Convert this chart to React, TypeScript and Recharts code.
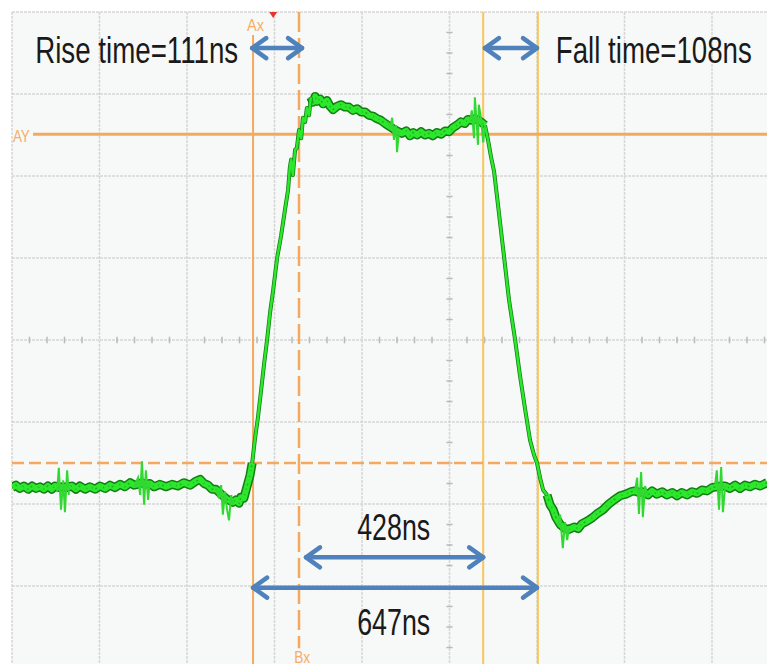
import React from "react";
import { LineChart, Line, XAxis, YAxis, CartesianGrid, ReferenceLine, ReferenceDot } from "recharts";

// scope trace: time in ns (200 ns/div), level in divisions from screen centre
const lowBefore: [number, number][] = [
  [0, -1.8], [9, -1.77], [18, -1.81], [27, -1.78], [37, -1.82], [46, -1.78], [55, -1.81], [64, -1.79],
  [73, -1.82], [82, -1.78], [91, -1.82], [98, -1.78], [107, -1.8], [117, -1.79], [126, -1.8], [137, -1.78],
  [146, -1.82], [155, -1.78], [167, -1.82], [178, -1.79], [190, -1.82], [201, -1.78], [213, -1.81], [224, -1.77],
  [235, -1.8], [247, -1.76], [258, -1.79], [270, -1.74], [279, -1.77], [288, -1.76], [297, -1.74], [306, -1.76],
  [315, -1.75], [325, -1.79], [338, -1.76], [352, -1.79], [366, -1.76], [379, -1.78], [393, -1.74], [407, -1.77],
  [421, -1.72], [430, -1.7], [439, -1.75], [448, -1.77], [457, -1.82], [466, -1.82], [478, -1.88], [491, -1.94],
  [505, -1.98], [512, -1.95], [519, -1.99], [523, -1.92], [530, -1.93], [537, -1.79], [544, -1.65], [549, -1.5],
];

const riseEdge: [number, number][] = [
  [555, -1.22], [562, -0.95], [569, -0.63], [576, -0.3], [583, 0], [590, 0.34], [597, 0.61], [606, 1.0],
  [615, 1.27], [624, 1.59], [631, 1.83], [635, 2.1], [638, 2.2], [642, 2.01], [647, 2.32], [651, 2.34],
  [656, 2.56], [661, 2.46], [665, 2.71], [670, 2.66], [674, 2.83], [679, 2.74],
];

const topLevel: [number, number][] = [
  [683, 2.96], [688, 2.9], [693, 2.97], [697, 2.91], [704, 2.94], [711, 2.88], [720, 2.92], [727, 2.85],
  [734, 2.81], [743, 2.85], [752, 2.87], [761, 2.84], [770, 2.84], [779, 2.8], [789, 2.82], [798, 2.78],
  [807, 2.78], [816, 2.74], [825, 2.73], [834, 2.7], [843, 2.68], [853, 2.64], [864, 2.6], [873, 2.57],
  [880, 2.55], [891, 2.52], [901, 2.55], [910, 2.49], [917, 2.53], [926, 2.5], [935, 2.54], [944, 2.5],
  [953, 2.52], [962, 2.49], [971, 2.53], [981, 2.51], [990, 2.55], [999, 2.54], [1008, 2.59], [1017, 2.62],
  [1026, 2.66], [1035, 2.64], [1042, 2.69], [1051, 2.68], [1058, 2.7], [1065, 2.68], [1072, 2.66], [1081, 2.62],
];

const fallEdge: [number, number][] = [
  [1088, 2.44], [1095, 2.23], [1102, 2.05], [1113, 1.55], [1125, 1.0], [1136, 0.49], [1150, 0], [1161, -0.43],
  [1173, -0.85], [1184, -1.22], [1193, -1.4], [1200, -1.5], [1207, -1.68], [1214, -1.83],
];

const lowAfter: [number, number][] = [
  [1223, -1.89], [1230, -2.01], [1237, -2.07], [1243, -2.16], [1253, -2.25], [1264, -2.3], [1273, -2.31],
  [1285, -2.28], [1294, -2.3], [1303, -2.24], [1314, -2.21], [1326, -2.17], [1337, -2.12], [1351, -2.07],
  [1362, -2.01], [1376, -1.95], [1390, -1.9], [1403, -1.88], [1415, -1.85], [1424, -1.84], [1433, -1.86],
  [1442, -1.85], [1454, -1.89], [1463, -1.84], [1474, -1.88], [1486, -1.85], [1497, -1.89], [1509, -1.86],
  [1520, -1.9], [1531, -1.86], [1543, -1.89], [1554, -1.85], [1566, -1.87], [1577, -1.83], [1589, -1.84],
  [1600, -1.8], [1611, -1.79], [1621, -1.78], [1630, -1.78], [1641, -1.81], [1653, -1.77], [1664, -1.81],
  [1675, -1.77], [1687, -1.79], [1698, -1.76], [1710, -1.78], [1726, -1.74],
];

// short ringing bursts riding on the trace
const glitches: [number, number][][] = [
  [[103, -1.85], [107, -1.56], [112, -2.07], [117, -1.71], [121, -2.1], [126, -1.59], [130, -1.89]],
  [[279, -1.79], [288, -1.68], [293, -1.89], [297, -1.48], [302, -2.01], [306, -1.59], [311, -1.95], [315, -1.73]],
  [[466, -1.8], [473, -1.93], [478, -1.77], [482, -2.13], [487, -1.85], [491, -2.05], [496, -2.2], [501, -1.89], [505, -2.01]],
  [[859, 2.66], [864, 2.57], [869, 2.71], [873, 2.44], [878, 2.62], [880, 2.29], [885, 2.56]],
  [[1047, 2.66], [1051, 2.8], [1056, 2.46], [1058, 2.96], [1063, 2.57], [1065, 2.38], [1067, 2.87], [1072, 2.71], [1077, 2.41], [1081, 2.62]],
  [[1248, -2.26], [1253, -2.13], [1257, -2.41], [1259, -2.54], [1264, -2.22], [1269, -2.44], [1273, -2.29]],
  [[1424, -1.84], [1429, -1.68], [1433, -2.12], [1438, -1.61], [1442, -2.16], [1447, -1.78], [1454, -1.91]],
  [[1607, -1.77], [1611, -1.59], [1616, -2.07], [1621, -1.55], [1625, -2.1], [1630, -1.78]],
];

const timeTicks = [0, 200, 400, 600, 800, 1000, 1200, 1400, 1600, 1800, 2000];
const levelTicks = [-4, -3, -2, -1, 0, 1, 2, 3, 4];
const minorTimeSteps = [40, 80, 120, 160];
const minorLevelSteps = [0.25, 0.5, 0.75];

// cursors
const cursorAx = 551;
const cursorBx = 656;
const fallStart = 1077;
const fallEnd = 1202;
const cursorAy = 2.51;
const cursorBy = -1.5;

const measures = [
  { from: 549, to: 663, level: 3.56 },
  { from: 1081, to: 1200, level: 3.56 },
  { from: 672, to: 1077, level: -2.65 },
  { from: 551, to: 1200, level: -3.02 },
];

const captions = [
  { t: 53, v: 3.38, text: "Rise time=111ns", w: 203 },
  { t: 1243, v: 3.38, text: "Fall time=108ns", w: 196 },
  { t: 789, v: -2.44, text: "428ns", w: 73 },
  { t: 789, v: -3.6, text: "647ns", w: 73 },
];

const cursorTags = [
  { t: 537, v: 3.77, text: "Ax", w: 17 },
  { t: 2, v: 2.41, text: "AY", w: 17 },
  { t: 645, v: -3.94, text: "Bx", w: 16 },
];

const toPts = (arr: [number, number][]) => arr.map(([t, v]) => ({ t, v }));
const first = (a: [number, number][]) => a[0];
const last = (a: [number, number][]) => a[a.length - 1];

const flatSegs = [toPts(lowBefore), toPts(topLevel), toPts(lowAfter)];
const edgeSegs = [
  toPts([last(lowBefore), ...riseEdge, first(topLevel)]),
  toPts([last(topLevel), ...fallEdge, first(lowAfter)]),
];
const glitchSegs = glitches.map(toPts);

const centreTimeTicks = timeTicks.slice(0, -1).flatMap((t) => minorTimeSteps.map((s) => t + s));
const centreLevelTicks = levelTicks.slice(0, -1).flatMap((l) => minorLevelSteps.map((s) => l + s));

const ORANGE = "#f5a95f";
const YELLOW = "#f8c65a";
const BLUE = "#4f81bd";
const DARK_GREEN = "#137d13";
const GREEN = "#2ce82c";

const DoubleArrow = (props: any) => {
  const { x1, y1, x2, y2 } = props;
  const h = 14;
  const w = 10;
  return (
    <g stroke={BLUE} strokeWidth={4.5} strokeLinecap="round" strokeLinejoin="round" fill="none">
      <line x1={x1} y1={y1} x2={x2} y2={y2} />
      <polyline points={`${x1 + h},${y1 - w} ${x1},${y1} ${x1 + h},${y1 + w}`} />
      <polyline points={`${x2 - h},${y2 - w} ${x2},${y2} ${x2 - h},${y2 + w}`} />
    </g>
  );
};

const textShape = (text: string, w: number, size: number, color: string) => (props: any) => (
  <text
    x={props.cx}
    y={props.cy}
    fontSize={size}
    fontFamily="'Liberation Sans', Arial, sans-serif"
    fill={color}
    textLength={w}
    lengthAdjust="spacingAndGlyphs"
  >
    {text}
  </text>
);

const triggerShape = (props: any) => (
  <polygon points={`${props.cx - 4},${props.cy} ${props.cx + 4},${props.cy} ${props.cx},${props.cy + 6}`} fill="#e8352c" />
);

export default function App() {
  return (
    <div style={{ position: "absolute", left: 0, top: 0, width: 767, height: 664, overflow: "hidden", background: "#fff" }}>
      <LineChart width={900} height={680} margin={{ top: 12, right: 13, bottom: 12, left: 12 }}>
        <CartesianGrid
          stroke="#d6d6d6"
          strokeWidth={1.5}
          strokeDasharray="3 1"
          fill="#f6f9f7"
          fillOpacity={1}
          verticalValues={timeTicks}
          horizontalValues={levelTicks}
        />
        <XAxis type="number" dataKey="t" domain={[0, 2000]} ticks={timeTicks} hide allowDataOverflow />
        <YAxis type="number" dataKey="v" domain={[-4, 4]} ticks={levelTicks} hide allowDataOverflow />

        {centreTimeTicks.map((t) => (
          <ReferenceLine key={"ct" + t} segment={[{ x: t, y: -0.04 }, { x: t, y: 0.04 }]} stroke="#b9b9b9" strokeWidth={1.5} />
        ))}
        {centreLevelTicks.map((l) => (
          <ReferenceLine key={"cl" + l} segment={[{ x: 993, y: l }, { x: 1007, y: l }]} stroke="#b9b9b9" strokeWidth={1.5} />
        ))}

        <ReferenceLine segment={[{ x: cursorAx, y: 3.72 }, { x: cursorAx, y: -4 }]} stroke={ORANGE} strokeWidth={2} />
        <ReferenceLine segment={[{ x: cursorBx, y: 4 }, { x: cursorBx, y: -3.76 }]} stroke={ORANGE} strokeWidth={2.5} strokeDasharray="20 6" />
        <ReferenceLine x={fallStart} stroke={YELLOW} strokeWidth={2} />
        <ReferenceLine x={fallEnd} stroke={YELLOW} strokeWidth={2} />
        <ReferenceLine segment={[{ x: 48, y: cursorAy }, { x: 2000, y: cursorAy }]} stroke={ORANGE} strokeWidth={3} />
        <ReferenceLine y={cursorBy} stroke={ORANGE} strokeWidth={2.5} strokeDasharray="12 5" />

        {flatSegs.map((seg, i) => (
          <Line key={"fd" + i} data={seg} dataKey="v" type="linear" stroke={DARK_GREEN} strokeWidth={9} dot={false} isAnimationActive={false} strokeLinejoin="round" />
        ))}
        {flatSegs.map((seg, i) => (
          <Line key={"fb" + i} data={seg} dataKey="v" type="linear" stroke={GREEN} strokeWidth={6} dot={false} isAnimationActive={false} strokeLinejoin="round" />
        ))}
        {flatSegs.map((seg, i) => (
          <Line key={"fs" + i} data={seg} dataKey="v" type="linear" stroke={DARK_GREEN} strokeOpacity={0.5} strokeWidth={1.5} strokeDasharray="1 3 2 7 1 5" dot={false} isAnimationActive={false} />
        ))}
        {edgeSegs.map((seg, i) => (
          <Line key={"ed" + i} data={seg} dataKey="v" type="linear" stroke={DARK_GREEN} strokeWidth={4} dot={false} isAnimationActive={false} strokeLinejoin="round" />
        ))}
        {edgeSegs.map((seg, i) => (
          <Line key={"eb" + i} data={seg} dataKey="v" type="linear" stroke={GREEN} strokeWidth={2.5} dot={false} isAnimationActive={false} strokeLinejoin="round" />
        ))}
        {glitchSegs.map((seg, i) => (
          <Line key={"g" + i} data={seg} dataKey="v" type="linear" stroke="#32d832" strokeWidth={2} dot={false} isAnimationActive={false} />
        ))}

        {measures.map((m, i) => (
          <ReferenceLine key={"m" + i} segment={[{ x: m.from, y: m.level }, { x: m.to, y: m.level }]} shape={DoubleArrow} />
        ))}
        {captions.map((c, i) => (
          <ReferenceDot key={"c" + i} x={c.t} y={c.v} r={0} shape={textShape(c.text, c.w, 36, "#1a1a1a")} />
        ))}
        {cursorTags.map((c, i) => (
          <ReferenceDot key={"k" + i} x={c.t} y={c.v} r={0} shape={textShape(c.text, c.w, 16, "#f7ad66")} />
        ))}
        <ReferenceDot x={597} y={4} r={0} shape={triggerShape} />
      </LineChart>
    </div>
  );
}
